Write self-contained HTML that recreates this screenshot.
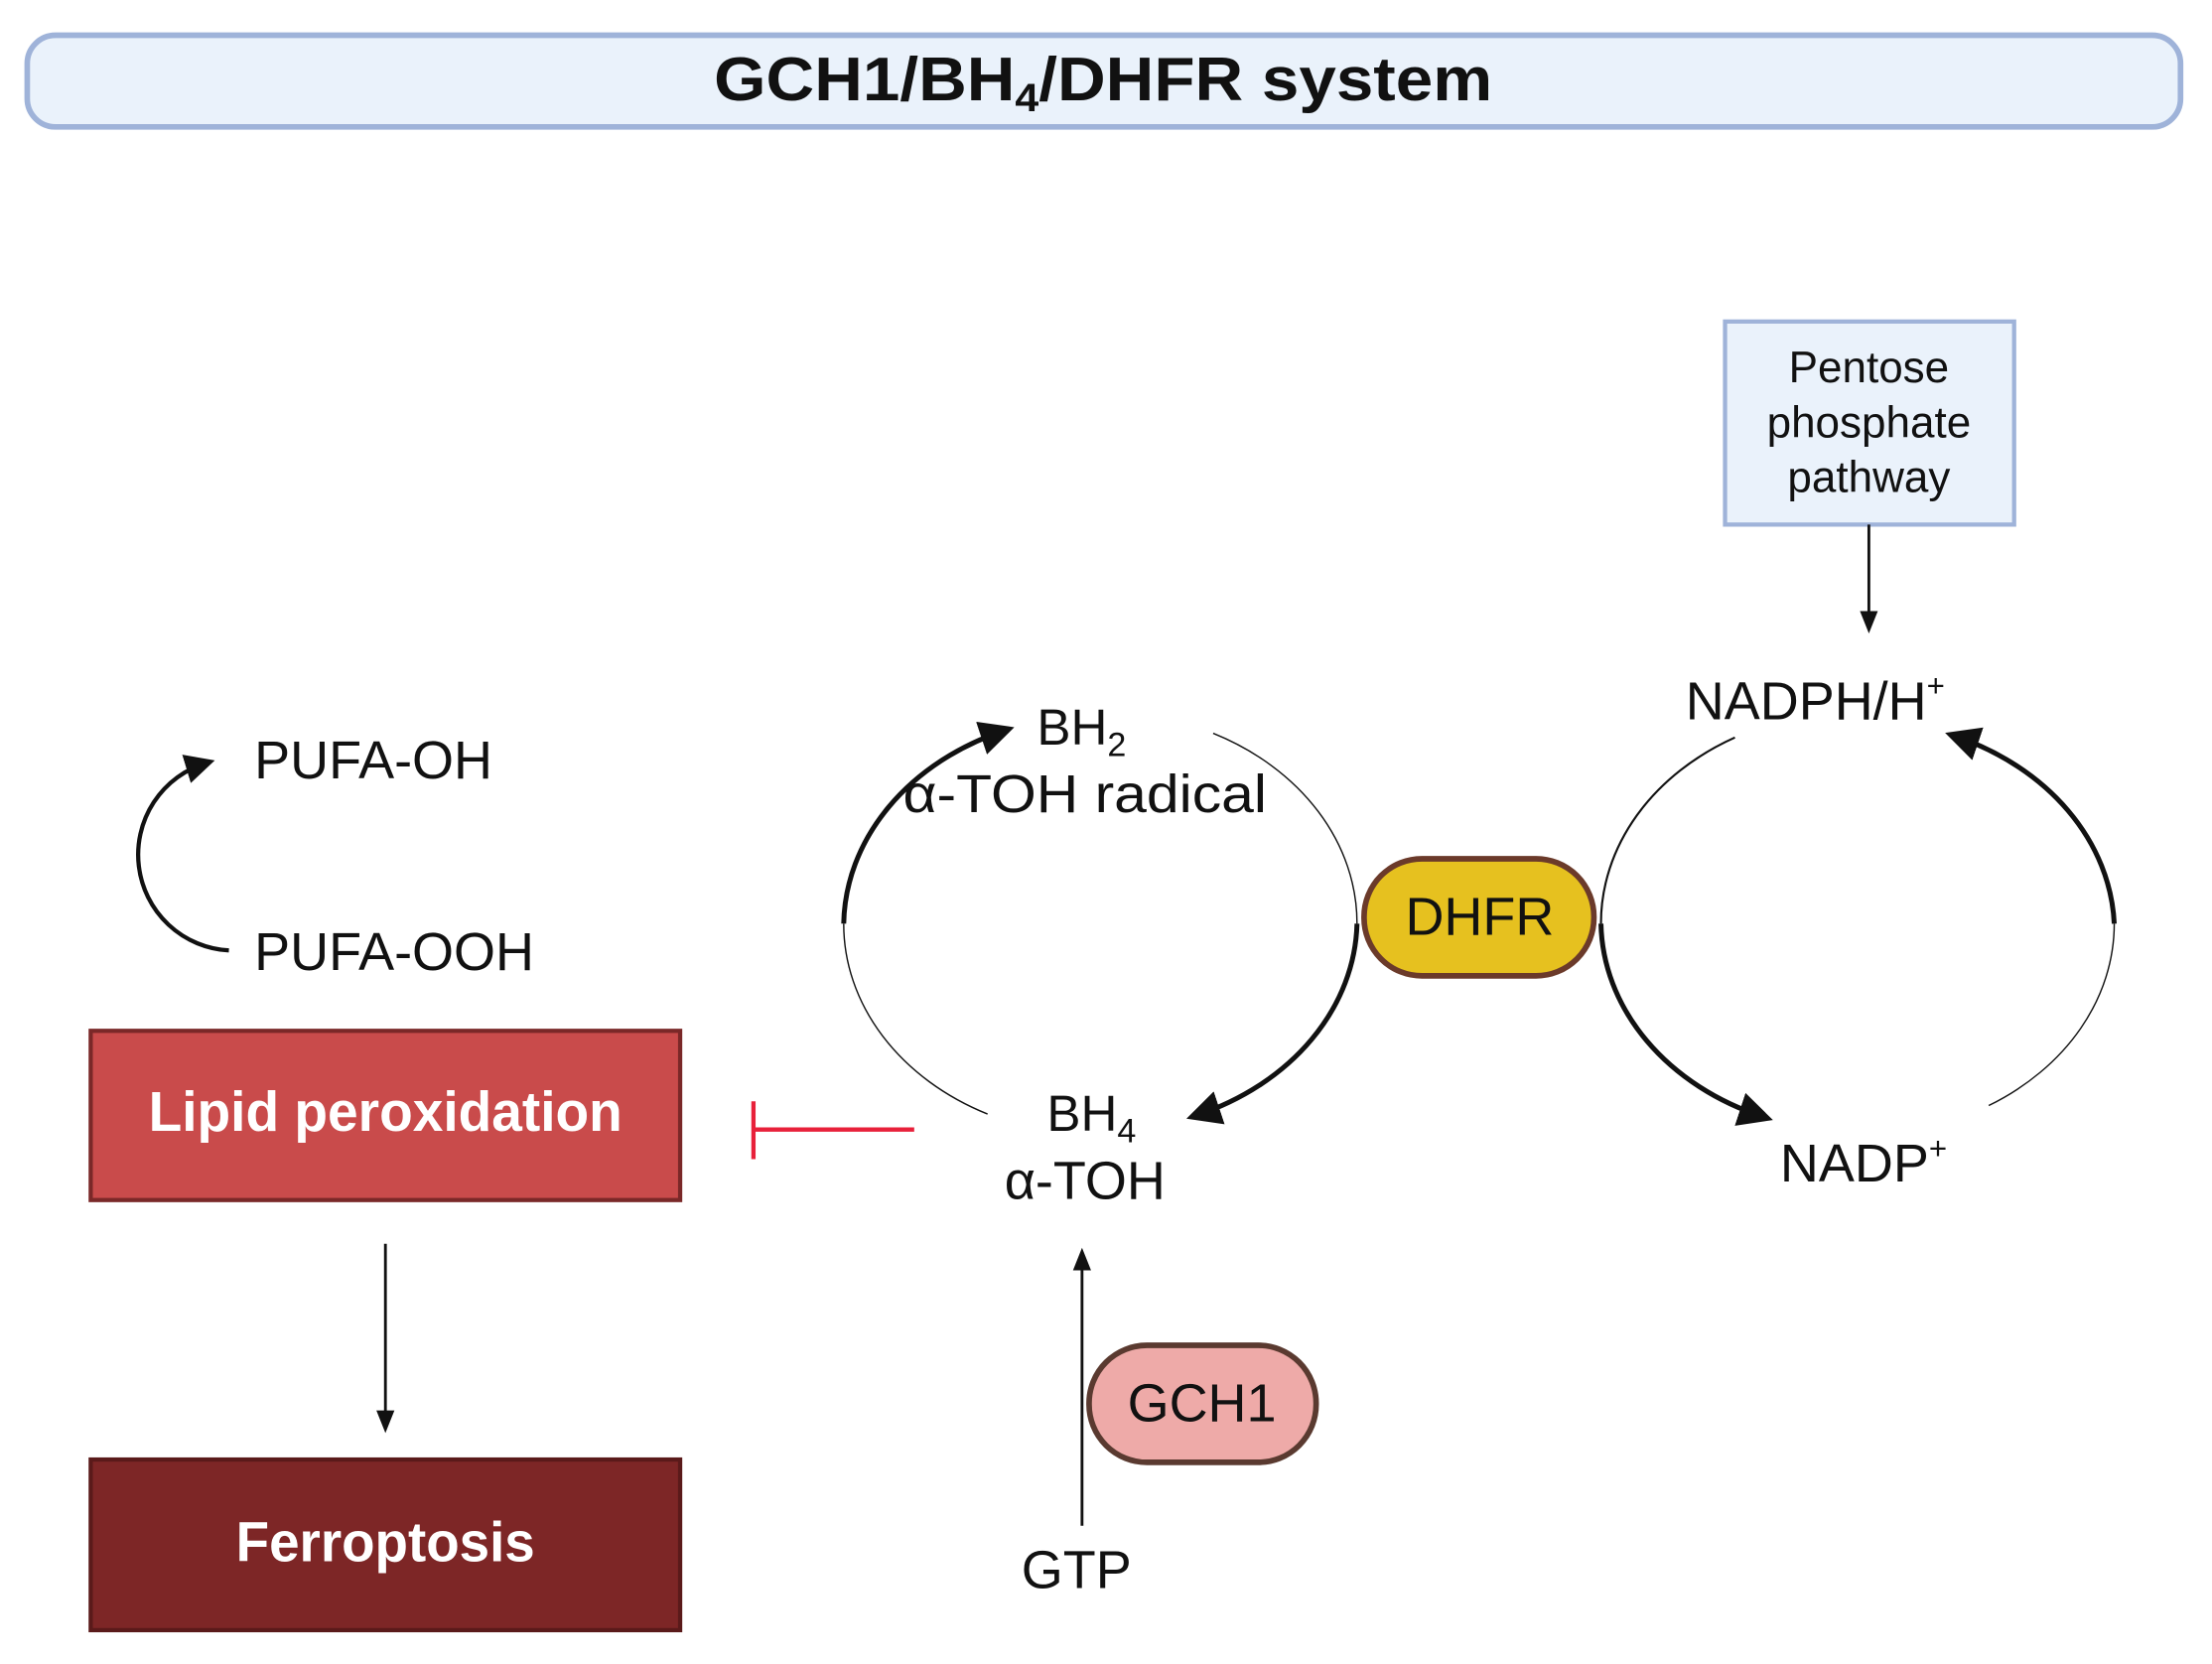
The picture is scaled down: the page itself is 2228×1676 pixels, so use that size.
<!DOCTYPE html>
<html><head><meta charset="utf-8"><style>
html,body{margin:0;padding:0;background:#fff;}
svg{display:block;}
text{font-family:"Liberation Sans",sans-serif;fill:#111;}
</style></head><body>
<svg width="2228" height="1676" viewBox="0 0 1568 1180" xmlns="http://www.w3.org/2000/svg">
<defs>
<marker id="ah" viewBox="0 0 10 10" refX="7" refY="5" markerWidth="7" markerHeight="7" orient="auto" markerUnits="strokeWidth"><path d="M0,0 L10,5 L0,10 z" fill="#111"/></marker>
<marker id="as" viewBox="0 0 10 10" refX="8" refY="5" markerWidth="8" markerHeight="8" orient="auto" markerUnits="strokeWidth"><path d="M0,1 L10,5 L0,9 z" fill="#111"/></marker>
</defs>
<rect width="1568" height="1180" fill="#fff"/>
<rect x="19" y="25" width="1527" height="65" rx="20" fill="#eaf2fb" stroke="#9fb3d9" stroke-width="4"/>
<text x="782" y="71" text-anchor="middle" font-size="44" font-weight="bold" textLength="552" lengthAdjust="spacingAndGlyphs">GCH1/BH<tspan font-size="28" dy="8">4</tspan><tspan dy="-8">/DHFR system</tspan></text>

<rect x="1223" y="228" width="205" height="144" fill="#eaf2fb" stroke="#9fb3d9" stroke-width="3"/>
<text x="1325" y="271" text-anchor="middle" font-size="31">Pentose</text>
<text x="1325" y="310" text-anchor="middle" font-size="31">phosphate</text>
<text x="1325" y="349" text-anchor="middle" font-size="31">pathway</text>
<line x1="1325" y1="372" x2="1325" y2="446" stroke="#111" stroke-width="2" marker-end="url(#as)"/>

<text x="1195" y="510" font-size="38">NADPH/H<tspan font-size="22" dy="-16">+</tspan></text>
<text x="1262" y="838" font-size="38">NADP<tspan font-size="22" dy="-16">+</tspan></text>

<text x="735" y="528" font-size="36">BH<tspan font-size="24" dy="8">2</tspan></text>
<text x="640" y="576" font-size="38" textLength="258" lengthAdjust="spacingAndGlyphs">α-TOH radical</text>
<text x="742" y="802" font-size="36">BH<tspan font-size="24" dy="8">4</tspan></text>
<text x="712" y="850" font-size="38">α-TOH</text>

<path d="M700,790 A182,150 0 0 1 598,655" fill="none" stroke="#111" stroke-width="1"/>
<path d="M598,655 A182,150 0 0 1 712,518" fill="none" stroke="#111" stroke-width="3.5" marker-end="url(#ah)"/>
<path d="M860,520 A182,150 0 0 1 962,655" fill="none" stroke="#111" stroke-width="1"/>
<path d="M962,655 A182,150 0 0 1 848,791" fill="none" stroke="#111" stroke-width="3.5" marker-end="url(#ah)"/>
<path d="M1230,523 A182,150 0 0 0 1135,655" fill="none" stroke="#111" stroke-width="1.5"/>
<path d="M1135,655 A182,150 0 0 0 1250,792" fill="none" stroke="#111" stroke-width="3.5" marker-end="url(#ah)"/>
<path d="M1410,784 A182,150 0 0 0 1499,655" fill="none" stroke="#111" stroke-width="1"/>
<path d="M1499,655 A182,150 0 0 0 1386,522" fill="none" stroke="#111" stroke-width="3.5" marker-end="url(#ah)"/>

<rect x="967" y="609" width="163" height="83" rx="41" fill="#e6c11f" stroke="#6b3a2a" stroke-width="4"/>
<text x="1049" y="663" text-anchor="middle" font-size="38">DHFR</text>

<line x1="767" y1="1082" x2="767" y2="888" stroke="#111" stroke-width="2" marker-end="url(#as)"/>
<text x="724" y="1126" font-size="38">GTP</text>
<rect x="772" y="954" width="161" height="83" rx="41" fill="#eeaaa8" stroke="#5a3a30" stroke-width="4"/>
<text x="852" y="1008" text-anchor="middle" font-size="38">GCH1</text>

<line x1="534" y1="801" x2="648" y2="801" stroke="#e8203a" stroke-width="3"/>
<line x1="534" y1="781" x2="534" y2="822" stroke="#e8203a" stroke-width="3"/>

<rect x="64" y="731" width="418" height="120" fill="#c94b4b" stroke="#7a2828" stroke-width="3"/>
<text x="273" y="802" text-anchor="middle" font-size="40" font-weight="bold" style="fill:#fff" textLength="336" lengthAdjust="spacingAndGlyphs">Lipid peroxidation</text>
<line x1="273" y1="882" x2="273" y2="1013" stroke="#111" stroke-width="2" marker-end="url(#as)"/>
<rect x="64" y="1035" width="418" height="121" fill="#7d2626" stroke="#5a1a1a" stroke-width="3"/>
<text x="273" y="1107" text-anchor="middle" font-size="40" font-weight="bold" style="fill:#fff" textLength="212" lengthAdjust="spacingAndGlyphs">Ferroptosis</text>

<text x="180" y="552" font-size="38">PUFA-OH</text>
<text x="180" y="688" font-size="38">PUFA-OOH</text>
<path d="M162,674 A68,68 0 0 1 146,541" fill="none" stroke="#111" stroke-width="3" marker-end="url(#ah)"/>
</svg>
</body></html>
